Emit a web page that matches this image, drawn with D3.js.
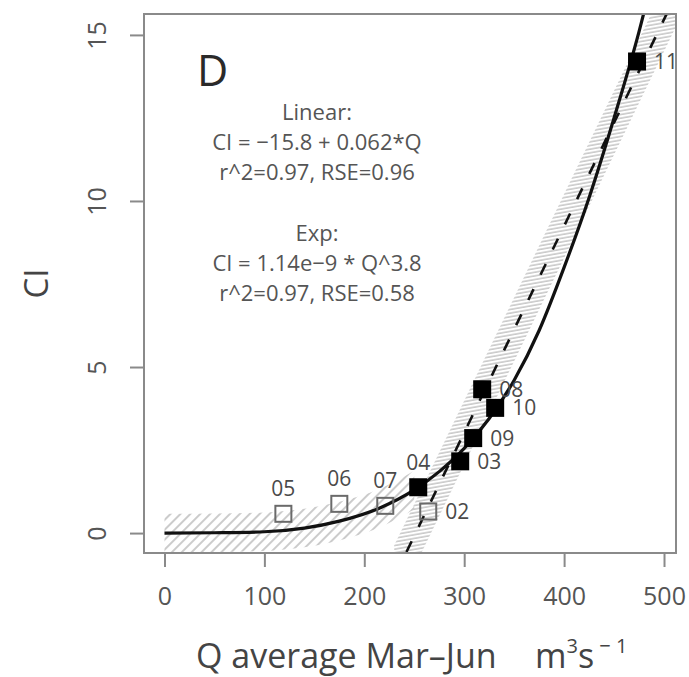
<!DOCTYPE html>
<html>
<head>
<meta charset="utf-8">
<script src="https://cdn.jsdelivr.net/npm/d3@7/dist/d3.min.js"></script>
<style>
  body { margin: 0; background: #fff; }
  svg { display: block; font-family: "Open Sans", "DejaVu Sans", sans-serif; }
</style>
</head>
<body>
<svg id="chart" width="689" height="677"></svg>
<script>
// observed points (year label, Q, CI)
var years = ['02', '03', '04', '05', '06', '07', '08', '09', '10', '11'];
var qValues = [264, 296, 254, 119, 175, 221, 318, 309, 331, 473];
var ciValues = [0.65, 2.16, 1.38, 0.58, 0.88, 0.82, 4.33, 2.86, 3.77, 14.2];
var filled = [false, true, true, false, false, false, true, true, true, true];
var labelSide = ['right', 'right', 'top', 'top', 'top', 'top', 'right', 'right', 'right', 'right'];

// exp fit curve
var curveQ = [0, 50, 100, 140, 175, 215, 250, 275, 300, 325, 350, 375, 400, 425, 450, 475, 490];
var curveCI = [0.0, 0.01, 0.04, 0.15, 0.36, 0.75, 1.3, 1.85, 2.55, 3.45, 4.6, 6.1, 8.0, 10.1, 12.5, 15.1, 16.9];
var expBandHalf = 0.58;
var expBandMaxQ = 250;

// linear fit line (two ends)
var linQ = [230, 515];
var linCI = [-1.33, 16.4];
var linBandHalf = 0.96;

var xTicks = [0, 100, 200, 300, 400, 500];
var yTicks = [0, 5, 10, 15];

var annoLines = ['Linear:', 'CI = \u221215.8 + 0.062*Q', 'r^2=0.97, RSE=0.96', '',
                 'Exp:', 'CI = 1.14e\u22129 * Q^3.8', 'r^2=0.97, RSE=0.58'];

var svg = d3.select('#chart');
var plotL = 144, plotR = 676, plotT = 14, plotB = 553;

var x = d3.scaleLinear().domain([-20.5, 512]).range([plotL, plotR]);
var y = d3.scaleLinear().domain([-0.6, 15.63]).range([plotB, plotT]);

var defs = svg.append('defs');
defs.append('clipPath').attr('id', 'plotclip')
    .append('rect')
    .attr('x', plotL).attr('y', plotT)
    .attr('width', plotR - plotL).attr('height', plotB - plotT);

var pExp = defs.append('pattern')
    .attr('id', 'hatchExp')
    .attr('patternUnits', 'userSpaceOnUse')
    .attr('width', 7).attr('height', 7)
    .attr('patternTransform', 'rotate(45)');
pExp.append('line')
    .attr('x1', 1).attr('y1', 0).attr('x2', 1).attr('y2', 7)
    .attr('stroke', '#c6c6c6').attr('stroke-width', 1.8);

var pLin = defs.append('pattern')
    .attr('id', 'hatchLin')
    .attr('patternUnits', 'userSpaceOnUse')
    .attr('width', 10).attr('height', 3.6)
    .attr('patternTransform', 'rotate(-10)');
pLin.append('line')
    .attr('x1', 0).attr('y1', 1).attr('x2', 10).attr('y2', 1)
    .attr('stroke', '#c6c6c6').attr('stroke-width', 1.5);

var plot = svg.append('g').attr('clip-path', 'url(#plotclip)');

// bands
var curvePts = curveQ.map(function (q, i) { return [q, curveCI[i]]; });
var expPts = curvePts.filter(function (d) { return d[0] <= expBandMaxQ; });

var band = d3.area()
    .x(function (d) { return x(d[0]); })
    .y0(function (d) { return y(d[1] - d[2]); })
    .y1(function (d) { return y(d[1] + d[2]); })
    .curve(d3.curveMonotoneX);

plot.append('path')
    .datum(expPts.map(function (d) { return [d[0], d[1], expBandHalf]; }))
    .attr('d', band)
    .attr('fill', 'url(#hatchExp)');

plot.append('path')
    .datum(linQ.map(function (q, i) { return [q, linCI[i], linBandHalf]; }))
    .attr('d', band.curve(d3.curveLinear))
    .attr('fill', 'url(#hatchLin)');

// point labels
var labelG = svg.append('g')
    .attr('font-size', 21)
    .attr('fill', '#4a4a4a');

years.forEach(function (yr, i) {
    var side = labelSide[i];
    labelG.append('text')
        .attr('x', x(qValues[i]) + (side === 'right' ? 17 : 0))
        .attr('y', y(ciValues[i]) + (side === 'right' ? 0 : -25))
        .attr('dy', '0.36em')
        .attr('text-anchor', side === 'right' ? 'start' : 'middle')
        .text(yr);
});

// fit lines
var line = d3.line()
    .x(function (d) { return x(d[0]); })
    .y(function (d) { return y(d[1]); });

plot.append('path')
    .datum(linQ.map(function (q, i) { return [q, linCI[i]]; }))
    .attr('d', line)
    .attr('fill', 'none')
    .attr('stroke', '#111')
    .attr('stroke-width', 2.6)
    .attr('stroke-dasharray', '12,16');

plot.append('path')
    .datum(curvePts)
    .attr('d', line.curve(d3.curveMonotoneX))
    .attr('fill', 'none')
    .attr('stroke', '#111')
    .attr('stroke-width', 3.2);

// points
var sq = 18;
years.forEach(function (yr, i) {
    var s = filled[i] ? sq : sq - 2;
    svg.append('rect')
        .attr('x', x(qValues[i]) - s / 2)
        .attr('y', y(ciValues[i]) - s / 2)
        .attr('width', s).attr('height', s)
        .attr('fill', filled[i] ? '#000' : 'none')
        .attr('stroke', filled[i] ? 'none' : '#6a6a6a')
        .attr('stroke-width', 2);
});

// box and axes
svg.append('rect')
    .attr('x', plotL).attr('y', plotT)
    .attr('width', plotR - plotL).attr('height', plotB - plotT)
    .attr('fill', 'none')
    .attr('stroke', '#8a8a8a')
    .attr('stroke-width', 2);

var xAxis = svg.append('g')
    .attr('transform', 'translate(0,' + plotB + ')')
    .call(d3.axisBottom(x).tickValues(xTicks).tickSize(14).tickPadding(20));
var yAxis = svg.append('g')
    .attr('transform', 'translate(' + plotL + ',0)')
    .call(d3.axisLeft(y).tickValues(yTicks).tickSize(14));

[xAxis, yAxis].forEach(function (ax) {
    ax.select('.domain').remove();
    ax.selectAll('.tick line').attr('stroke', '#8a8a8a').attr('stroke-width', 2);
    ax.selectAll('.tick text')
        .attr('fill', '#555')
        .attr('font-size', 25)
        .attr('font-family', '"Open Sans", sans-serif');
});

// y tick labels are turned like in R
yAxis.selectAll('.tick text')
    .attr('x', 0)
    .attr('text-anchor', 'middle')
    .attr('dy', '0.36em')
    .attr('transform', 'translate(' + (97 - plotL) + ',0) rotate(-90)');

// panel letter and annotation
svg.append('text')
    .attr('x', 197).attr('y', 86)
    .attr('font-size', 43)
    .attr('fill', '#2a2a2a')
    .text('D');

svg.append('g')
    .attr('font-size', 22)
    .attr('fill', '#555')
    .attr('text-anchor', 'middle')
    .selectAll('text')
    .data(annoLines)
    .enter()
    .append('text')
    .attr('x', 317)
    .attr('y', function (d, i) { return 120 + i * 30.2; })
    .text(function (d) { return d; });

// axis titles
svg.append('text')
    .attr('x', 196).attr('y', 668)
    .attr('font-size', 34)
    .attr('fill', '#444')
    .text('Q average Mar\u2013Jun');

var unit = svg.append('text')
    .attr('x', 535).attr('y', 668)
    .attr('font-size', 34)
    .attr('fill', '#444');
unit.append('tspan').text('m');
unit.append('tspan').attr('font-size', 20).attr('dy', -15).text('3');
unit.append('tspan').attr('dy', 15).text('s');
unit.append('tspan').attr('font-size', 20).attr('dy', -15).text(' \u2212 1');

svg.append('text')
    .attr('transform', 'translate(36,' + ((plotT + plotB) / 2) + ') rotate(-90)')
    .attr('text-anchor', 'middle')
    .attr('dy', '0.36em')
    .attr('font-size', 33)
    .attr('fill', '#444')
    .text('CI');
</script>
</body>
</html>
